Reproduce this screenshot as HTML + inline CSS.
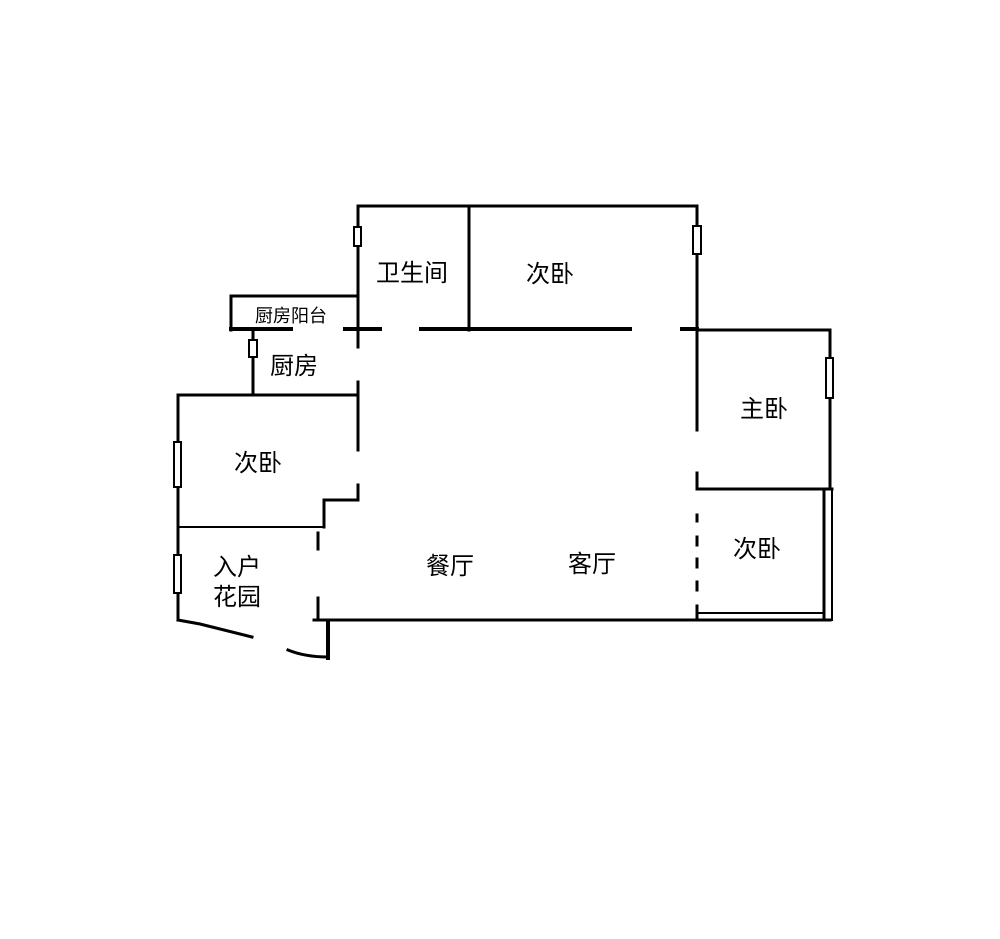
<!DOCTYPE html>
<html><head><meta charset="utf-8"><style>
html,body{margin:0;padding:0;background:#fff;}
svg{display:block;}
text{font-family:"Liberation Sans","Noto Sans CJK SC","WenQuanYi Zen Hei",sans-serif;fill:#000;}
</style></head><body>
<svg width="1000" height="939" viewBox="0 0 1000 939" xmlns="http://www.w3.org/2000/svg">
<rect width="1000" height="939" fill="#fff"/>
<g stroke="#000" stroke-width="3" fill="none" stroke-linecap="square">
<!-- bathroom / top -->
<line x1="358" y1="206" x2="697" y2="206"/>
<line x1="358" y1="206" x2="358" y2="347"/>
<line x1="469" y1="206" x2="469" y2="330"/>
<line x1="697" y1="206" x2="697" y2="430"/>
<!-- top horizontal -->
<line x1="345" y1="329" x2="380" y2="329" stroke-width="4"/>
<line x1="421" y1="329" x2="630" y2="329" stroke-width="4"/>
<line x1="682" y1="329" x2="697" y2="329" stroke-width="4"/>
<line x1="697" y1="330" x2="830" y2="330"/>
<!-- kitchen balcony -->
<line x1="231" y1="296" x2="358" y2="296"/>
<line x1="231" y1="296" x2="231" y2="330"/>
<line x1="231" y1="329" x2="291" y2="329" stroke-width="4"/>
<!-- kitchen -->
<line x1="253" y1="330" x2="253" y2="395"/>
<line x1="178" y1="395" x2="358" y2="395"/>
<line x1="358" y1="382" x2="358" y2="450"/>
<line x1="358" y1="485" x2="358" y2="500"/>
<line x1="324" y1="500" x2="358" y2="500"/>
<line x1="324" y1="500" x2="324" y2="527"/>
<line x1="178" y1="527" x2="324" y2="527" stroke-width="2"/>
<!-- left -->
<line x1="178" y1="395" x2="178" y2="620"/>
<polyline points="178,620 200,624 252,637"/>
<path d="M288,650 Q305,657 328,657"/>
<line x1="328" y1="622" x2="328" y2="658" stroke-width="4"/>
<line x1="318" y1="533" x2="318" y2="549"/>
<line x1="318" y1="598" x2="318" y2="620"/>
<line x1="314" y1="620" x2="830" y2="620"/>
<!-- right -->
<line x1="697" y1="473" x2="697" y2="489"/>
<line x1="697" y1="515" x2="697" y2="521"/>
<line x1="697" y1="537" x2="697" y2="545"/>
<line x1="697" y1="559" x2="697" y2="567"/>
<line x1="697" y1="582" x2="697" y2="590"/>
<line x1="697" y1="606" x2="697" y2="620"/>
<line x1="830" y1="330" x2="830" y2="489"/>
<line x1="697" y1="489" x2="832" y2="489"/>
<line x1="824" y1="489" x2="824" y2="620"/>
<line x1="832" y1="489" x2="832" y2="620" stroke-width="2"/>
<line x1="697" y1="613" x2="824" y2="613" stroke-width="2"/>
</g>
<!-- windows -->
<g stroke="#000" stroke-width="2" fill="#fff">
<rect x="354" y="227" width="7" height="19"/>
<rect x="693" y="226" width="8" height="28"/>
<rect x="249" y="340" width="8" height="17"/>
<rect x="826" y="358" width="7" height="40"/>
<rect x="174" y="442" width="7" height="45"/>
<rect x="174" y="555" width="7" height="38"/>
</g>
<g font-size="24">
<text x="412" y="281" text-anchor="middle">卫生间</text>
<text x="550" y="282" text-anchor="middle">次卧</text>
<text x="294" y="374" text-anchor="middle">厨房</text>
<text x="258" y="471" text-anchor="middle">次卧</text>
<text x="237" y="575" text-anchor="middle">入户</text>
<text x="237" y="605" text-anchor="middle">花园</text>
<text x="450" y="574" text-anchor="middle">餐厅</text>
<text x="592" y="572" text-anchor="middle">客厅</text>
<text x="764" y="417" text-anchor="middle">主卧</text>
<text x="757" y="557" text-anchor="middle">次卧</text>
</g>
<text x="291" y="322" font-size="18" text-anchor="middle">厨房阳台</text>
</svg>
</body></html>
